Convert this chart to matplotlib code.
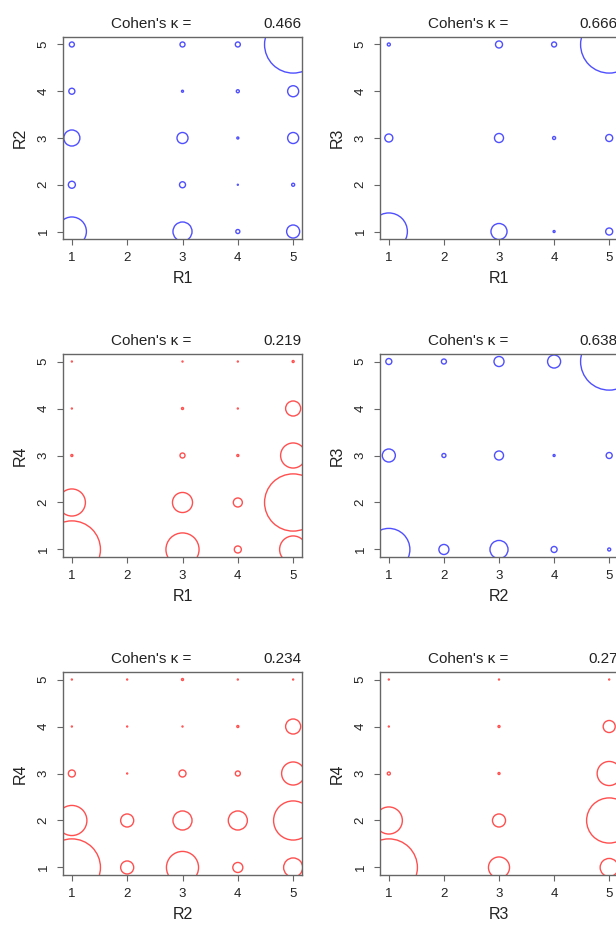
import numpy as np
import matplotlib
matplotlib.use("Agg")
import matplotlib.pyplot as plt

plt.rcParams["font.family"] = ["Liberation Sans", "DejaVu Sans"]

# rating levels on each axis
levels = [1, 2, 3, 4, 5]

# contingency counts, rows are y = 1..5, columns are x = 1..5
r1_r2 = [[29, 0, 19, 4, 13],
         [7, 0, 6, 1, 3],
         [16, 0, 11, 2, 11],
         [6, 0, 2, 3, 11],
         [5, 0, 5, 5, 57]]
r1_r3 = [[37, 0, 16, 2, 7],
         [0, 0, 0, 0, 0],
         [8, 0, 9, 3, 7],
         [0, 0, 0, 0, 0],
         [3, 0, 7, 5, 57]]
r1_r4 = [[57, 0, 33, 7, 27],
         [27, 0, 20, 9, 57],
         [2, 0, 5, 2, 25],
         [1, 0, 2, 1, 15],
         [1, 0, 1, 1, 2]]
r2_r3 = [[42, 10, 18, 6, 3],
         [0, 0, 0, 0, 0],
         [13, 4, 9, 2, 6],
         [0, 0, 0, 0, 0],
         [6, 5, 10, 13, 57]]
r2_r4 = [[57, 13, 32, 10, 19],
         [30, 13, 19, 19, 39],
         [7, 1, 7, 5, 23],
         [1, 1, 1, 2, 15],
         [1, 1, 2, 1, 1]]
r3_r4 = [[57, 0, 21, 0, 18],
         [27, 0, 13, 0, 45],
         [3, 0, 2, 0, 24],
         [1, 0, 2, 0, 12],
         [1, 0, 1, 0, 1]]

kappas = [0.466, 0.666, 0.219, 0.638, 0.234, 0.27]
x_names = ["R1", "R1", "R1", "R2", "R2", "R3"]
y_names = ["R2", "R3", "R4", "R3", "R4", "R4"]
tables = [r1_r2, r1_r3, r1_r4, r2_r3, r2_r4, r3_r4]

BLUE = "#4f4fff"
RED = "#ff4f4f"
FRAME = "#666666"
INK = "#222222"

W, H, DPI = 616, 925, 100
fig = plt.figure(figsize=(W / DPI, H / DPI), dpi=DPI)

# axes boxes in pixels (left, top, right, bottom); right column runs off the page
cols = [(63, 302), (380, 618)]
rows = [(37, 239), (354, 557), (672, 875)]

# biggest circle in each panel, radius in points
rmax_pt = 28.6 * 72 / DPI

for i, table in enumerate(tables):
    r, c = divmod(i, 2)
    left, right = cols[c]
    top, bottom = rows[r]
    ax = fig.add_axes([left / W, 1 - bottom / H, (right - left) / W, (bottom - top) / H])

    counts = np.array(table, dtype=float)
    yy, xx = np.nonzero(counts)
    n = counts[yy, xx]
    sizes = (2 * rmax_pt * n / counts.max()) ** 2
    color = BLUE if kappas[i] > 0.4 else RED
    ax.scatter(np.array(levels)[xx], np.array(levels)[yy], s=sizes,
               facecolors="none", edgecolors=color, linewidths=1.0)

    ax.set_xlim(0.84, 5.16)
    ax.set_ylim(0.84, 5.16)
    ax.set_xticks(levels)
    ax.set_yticks(levels)
    ax.tick_params(direction="out", length=4.5, width=0.8, color=FRAME,
                   pad=5, labelsize=9.5, labelcolor=INK)
    for lab in ax.get_yticklabels():
        lab.set_rotation(90)
        lab.set_va("center")
    for sp in ax.spines.values():
        sp.set_color(FRAME)
        sp.set_linewidth(1.0)

    ax.set_xlabel(x_names[i], fontsize=11.5, color=INK, labelpad=5)
    ax.set_ylabel(y_names[i], fontsize=11.5, color=INK, labelpad=7)

    ax.text(0.37, 1.03, "Cohen's \u03ba =", transform=ax.transAxes,
            ha="center", va="bottom", fontsize=11, color=INK)
    ax.text(1.0, 1.03, f"{kappas[i]:g}", transform=ax.transAxes,
            ha="right", va="bottom", fontsize=11, color=INK)

fig.savefig("out.png", dpi=DPI)
